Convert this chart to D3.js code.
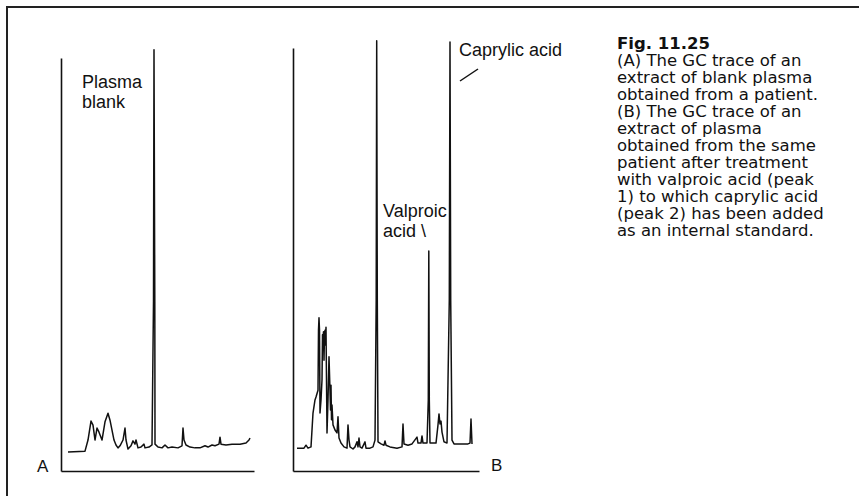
<!DOCTYPE html>
<html>
<head>
<meta charset="utf-8">
<script src="https://cdn.jsdelivr.net/npm/d3@7"></script>
<style>
  html, body { margin: 0; padding: 0; background: #fff; }
  svg { display: block; }
</style>
</head>
<body>
<div id="chart"></div>
<script>
// ---- Data (retention time in min, detector signal in arbitrary units) ----
const traceA_time = [0.7,2.4,2.7,3.0,3.2,3.4,3.6,3.8,4.1,4.4,4.7,4.9,5.1,5.3,5.5,5.7,5.9,6.2,6.4,6.5,6.7,7.0,7.2,7.4,7.5,7.7,8.0,8.3,8.4,8.8,9.1,9.25,9.3,9.38,9.4,9.7,10.1,10.4,10.7,11.1,11.7,12.1,12.2,12.3,12.5,12.9,13.4,13.9,14.4,14.7,15.1,15.4,15.8,15.9,16.0,16.5,17.1,17.9,18.5,18.8,18.9];
const traceA_signal = [4.6,4.8,7.5,12.1,11.1,7.5,10.4,9.4,7.5,11.9,14.0,12.3,9.9,7.5,6.3,5.6,6.1,7.5,10.4,7.5,5.3,6.1,7.3,6.5,7.5,5.6,5.8,6.5,5.6,5.8,6.3,41,102,41,6.5,5.8,5.6,6.3,5.6,5.8,5.6,6.1,10.4,7.5,6.3,5.8,5.6,5.6,6.1,5.8,6.3,6.1,6.5,8.2,6.5,6.3,6.5,6.5,6.8,7.5,8.0];

const traceB_time = [0.4,1.1,1.3,1.5,1.8,2.0,2.2,2.3,2.5,2.55,2.6,2.65,2.7,2.8,2.9,2.95,3.0,3.05,3.1,3.15,3.2,3.25,3.3,3.35,3.4,3.5,3.6,3.7,3.75,3.8,3.85,3.9,4.0,4.2,4.4,4.5,4.6,4.8,5.1,5.4,5.5,5.6,5.7,6.0,6.2,6.4,6.5,6.6,6.7,6.9,7.2,7.3,7.7,8.0,8.2,8.32,8.37,8.43,8.5,8.8,9.1,9.2,9.3,9.7,10.4,10.9,11.0,11.1,11.5,11.9,12.4,12.5,12.8,12.9,13.0,13.4,13.53,13.58,13.63,13.7,14.3,14.5,14.6,14.7,14.8,14.9,15.1,15.4,15.63,15.7,15.77,15.9,16.1,16.7,17.5,17.7,17.8,17.9];
const traceB_signal = [5.4,5.4,6.1,5.4,5.7,13.7,16.8,17.5,19.1,33.3,36.2,33.3,13.7,16.8,21.5,32.2,31.0,32.9,26.2,32.2,33.3,29.8,34.0,21.5,9.0,16.8,27.0,19.1,14.4,20.3,12.1,15.6,10.9,9.7,9.0,12.8,7.8,6.6,5.7,5.4,10.9,7.3,5.7,5.2,5.7,6.9,5.7,7.8,5.7,5.4,6.9,5.4,5.4,5.7,7.3,40.4,101.7,40.4,6.9,6.4,6.1,7.1,6.1,5.7,5.4,5.7,11.1,6.4,6.1,6.4,8.0,6.6,6.6,8.3,6.6,6.6,16.8,52.0,16.8,6.6,6.6,10.9,13.5,11.1,11.8,9.2,6.9,6.6,40.4,101.4,40.4,7.3,6.4,6.4,6.4,6.6,12.3,6.4];

const panelLabels = ["A", "B"];
const peakLabelsA = ["Plasma", "blank"];
const peakLabelsB_valproic = ["Valproic", "acid \\"];
const peakLabelB_caprylic = "Caprylic acid";
const captionTitle = "Fig. 11.25";
const captionLines = [
  "(A) The GC trace of an",
  "extract of blank plasma",
  "obtained from a patient.",
  "(B) The GC trace of an",
  "extract of plasma",
  "obtained from the same",
  "patient after treatment",
  "with valproic acid (peak",
  "1) to which caprylic acid",
  "(peak 2) has been added",
  "as an internal standard."
];

const W = 859, H = 496;
const svg = d3.select("#chart").append("svg").attr("width", W).attr("height", H);
svg.append("rect").attr("width", W).attr("height", H).attr("fill", "#fff");

// frame (top + left)
svg.append("path").attr("d", `M7,${H} L7,7 L${W},7`).attr("fill", "none")
  .attr("stroke", "#222").attr("stroke-width", 2);

const labelFont = "'Liberation Sans', Arial, sans-serif";
const ink = "#111";

function panel(time, signal, xr, yTop, tMax) {
  const x = d3.scaleLinear().domain([0, tMax]).range(xr);
  const y = d3.scaleLinear().domain([0, 100]).range([471, yTop]);
  const g = svg.append("g");
  const xa = g.append("g").attr("transform", `translate(0,${y(0)})`)
    .call(d3.axisBottom(x).ticks(0).tickSizeOuter(0));
  const ya = g.append("g").attr("transform", `translate(${x(0)},0)`)
    .call(d3.axisLeft(y).ticks(0).tickSizeOuter(0));
  [xa, ya].forEach(a => a.select(".domain").attr("stroke", ink).attr("stroke-width", 1.6));
  const data = time.map((t, i) => [t, signal[i]]);
  g.append("path").datum(data)
    .attr("d", d3.line().x(d => x(d[0])).y(d => y(d[1])))
    .attr("fill", "none").attr("stroke", ink).attr("stroke-width", 1.5)
    .attr("stroke-linejoin", "round");
  return { x, y };
}

const A = panel(traceA_time, traceA_signal, [61, 254], 58, 19.3);
const B = panel(traceB_time, traceB_signal, [293, 479], 48, 18.6);

// panel letters
svg.append("text").attr("x", 37).attr("y", 472).text(panelLabels[0])
  .attr("font-family", labelFont).attr("font-size", 17).attr("fill", ink);
svg.append("text").attr("x", 491).attr("y", 471).text(panelLabels[1])
  .attr("font-family", labelFont).attr("font-size", 17).attr("fill", ink);

// peak labels
peakLabelsA.forEach((s, i) => svg.append("text").attr("x", 82).attr("y", 88 + i * 20).text(s)
  .attr("font-family", labelFont).attr("font-size", 18).attr("fill", ink));
peakLabelsB_valproic.forEach((s, i) => svg.append("text").attr("x", 383).attr("y", 217 + i * 20).text(s)
  .attr("font-family", labelFont).attr("font-size", 18).attr("fill", ink));
svg.append("text").attr("x", 459).attr("y", 56).text(peakLabelB_caprylic)
  .attr("font-family", labelFont).attr("font-size", 18).attr("fill", ink);
svg.append("line").attr("x1", 460).attr("y1", 81).attr("x2", 478).attr("y2", 69)
  .attr("stroke", ink).attr("stroke-width", 1.5);

// caption
const capFont = "'DejaVu Sans', 'Open Sans', sans-serif";
svg.append("text").attr("x", 617).attr("y", 49).text(captionTitle)
  .attr("font-family", capFont).attr("font-size", 16.5).attr("font-weight", "bold").attr("fill", ink);
captionLines.forEach((s, i) => svg.append("text").attr("x", 617).attr("y", 49 + (i + 1) * 17).text(s)
  .attr("font-family", capFont).attr("font-size", 16.5).attr("fill", ink));
</script>
</body>
</html>
